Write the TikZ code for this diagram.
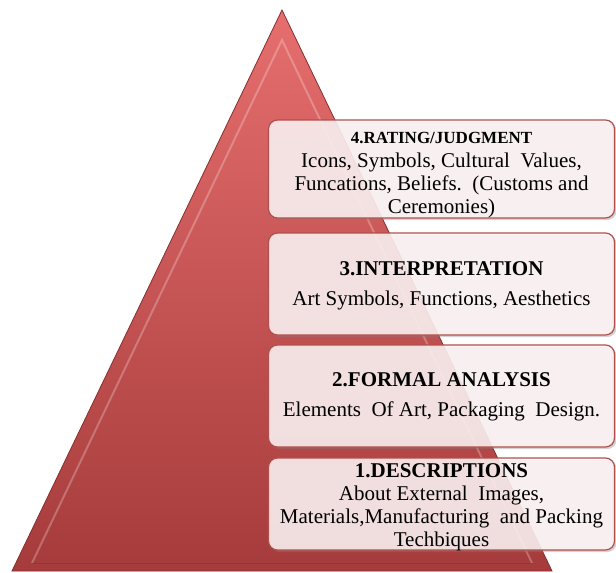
\documentclass[tikz,border=0pt]{standalone}
\usepackage{fontspec}
\setmainfont{Liberation Serif}
\usetikzlibrary{shadows}
\definecolor{tritop}{HTML}{E66E6E}
\definecolor{tribot}{HTML}{A63B3B}
\definecolor{boxedge}{HTML}{B0504C}
\tikzset{
  stage/.style={draw=boxedge, line width=1.2pt, rounded corners=9pt,
    fill=white!96!red, fill opacity=0.86, text opacity=1,
    drop shadow={opacity=0.35, shadow xshift=2pt, shadow yshift=-2pt},
    minimum width=346pt, inner sep=0pt},
  ttl/.style={font=\bfseries\fontsize{21}{24}\selectfont, inner sep=0pt},
  body/.style={font=\fontsize{21}{23}\selectfont, align=center, inner sep=0pt}
}
\begin{document}
\begin{tikzpicture}[x=1pt,y=-1pt]
\useasboundingbox (0,0) rectangle (616,573);
% pyramid
\coordinate (apex) at (282,10);
\coordinate (bl) at (12,571);
\coordinate (br) at (552,571);
\shade[top color=tritop, bottom color=tribot] (apex) -- (br) -- (bl) -- cycle;
\draw[tribot!80!black, line width=0.8pt] (apex) -- (br) -- (bl) -- cycle;
\coordinate (iapex) at (282,40);
\coordinate (ibl) at (32,563);
\coordinate (ibr) at (532,563);
\draw[white, opacity=0.25, line width=2pt] (ibl) -- (iapex) -- (ibr);
\draw[tribot!70!black, opacity=0.35, line width=1pt] (ibl) -- (ibr);
% stages
\node[stage, minimum height=98pt] (s4) at (441.5,169) {};
\node[ttl, font=\bfseries\fontsize{17}{20}\selectfont] (t4) at (441.5,138) {4.RATING/JUDGMENT};
\node[body] (b4) at (441.5,185) {Icons, Symbols, Cultural\ \ Values,\\Funcations, Beliefs.\ \ (Customs and\\Ceremonies)};
\node[stage, minimum height=102pt] (s3) at (441.5,284) {};
\node[ttl] (t3) at (441.5,269) {3.INTERPRETATION};
\node[body] (b3) at (441.5,300) {Art Symbols, Functions, Aesthetics};
\node[stage, minimum height=102pt] (s2) at (441.5,396) {};
\node[ttl] (t2) at (441.5,380) {2.FORMAL ANALYSIS};
\node[body] (b2) at (441.5,411) {Elements\ \ Of Art, Packaging\ \ Design.};
\node[stage, minimum height=92pt] (s1) at (441.5,504) {};
\node[ttl] (t1) at (441.5,471) {1.DESCRIPTIONS};
\node[body] (b1) at (441.5,518) {About External\ \ Images,\\Materials,Manufacturing\ \ and Packing\\Techbiques};
\end{tikzpicture}
\end{document}
